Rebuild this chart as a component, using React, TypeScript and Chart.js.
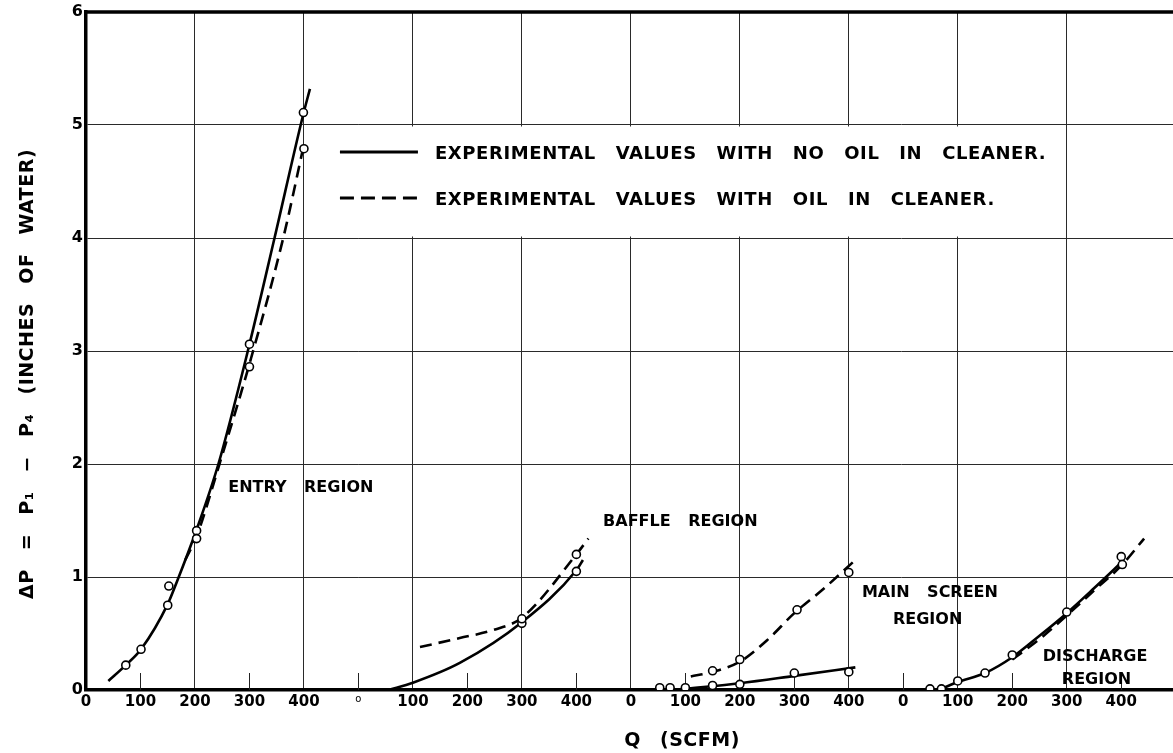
import { useEffect, useRef } from 'react';
import { Chart, registerables } from 'chart.js';

Chart.register(...registerables);

const FAMILY = '"DejaVu Sans", "Liberation Sans", sans-serif';

// Continuous x positions: four 0–400 SCFM panels laid side by side (offset 0, 500, 1000, 1500)
const X_MAX = 1995;
const X_TICKS = [0, 100, 200, 300, 400, 500, 600, 700, 800, 900, 1000, 1100, 1200, 1300, 1400, 1500, 1600, 1700, 1800, 1900];
const X_TICK_LABELS = ['0', '100', '200', '300', '400', 'o', '100', '200', '300', '400', '0', '100', '200', '300', '400', '0', '100', '200', '300', '400'];
const Y_TICKS = [0, 1, 2, 3, 4, 5, 6];

// Entry region
const entryNoOilQ = [41, 73, 101, 150, 167, 203, 243, 297, 346, 398, 411];
const entryNoOilDP = [0.08, 0.22, 0.36, 0.76, 0.96, 1.42, 2.0, 3.0, 4.0, 5.08, 5.32];
const entryOilQ = [182, 203, 245, 302, 362, 401];
const entryOilDP = [1.15, 1.36, 2.0, 2.92, 4.0, 4.85];

// Baffle region
const baffleNoOilQ = [555, 600, 686, 800, 900, 912];
const baffleNoOilDP = [0, 0.065, 0.24, 0.6, 1.06, 1.15];
const baffleOilQ = [613, 686, 747, 800, 900, 922];
const baffleOilDP = [0.38, 0.46, 0.53, 0.64, 1.2, 1.34];

// Main screen region
const screenNoOilQ = [1100, 1200, 1300, 1412];
const screenNoOilDP = [0.01, 0.06, 0.125, 0.2];
const screenOilQ = [1110, 1150, 1200, 1250, 1300, 1350, 1412];
const screenOilDP = [0.12, 0.16, 0.25, 0.44, 0.68, 0.88, 1.15];

// Discharge region
const dischargeNoOilQ = [1570, 1600, 1650, 1700, 1750, 1800, 1850, 1905];
const dischargeNoOilDP = [0.01, 0.07, 0.15, 0.29, 0.48, 0.68, 0.9, 1.15];
const dischargeOilQ = [1700, 1750, 1800, 1850, 1900, 1942];
const dischargeOilDP = [0.27, 0.45, 0.66, 0.88, 1.1, 1.34];

// Measured points (open circles)
const pointQ = [73, 101, 150, 152, 203, 203, 300, 300, 399, 400,
  800, 800, 900, 900,
  1053, 1072, 1100, 1150, 1200, 1300, 1400, 1150, 1200, 1305, 1400,
  1549, 1570, 1600, 1650, 1700, 1800, 1900, 1902];
const pointDP = [0.22, 0.36, 0.75, 0.92, 1.41, 1.34, 3.06, 2.86, 5.11, 4.79,
  0.59, 0.63, 1.05, 1.2,
  0.02, 0.02, 0.02, 0.04, 0.05, 0.15, 0.16, 0.17, 0.27, 0.71, 1.04,
  0.01, 0.01, 0.08, 0.15, 0.31, 0.69, 1.18, 1.11];

const LEGEND_TEXT = ['EXPERIMENTAL VALUES WITH NO OIL IN CLEANER.', 'EXPERIMENTAL VALUES WITH OIL IN CLEANER.'];
const REGION_LABELS: { text: string; q: number; dp: number }[] = [
  { text: 'ENTRY REGION', q: 261, dp: 1.785 },
  { text: 'BAFFLE REGION', q: 949, dp: 1.486 },
  { text: 'MAIN SCREEN', q: 1424, dp: 0.858 },
  { text: 'REGION', q: 1481, dp: 0.619 },
  { text: 'DISCHARGE', q: 1756, dp: 0.292 },
  { text: 'REGION', q: 1791, dp: 0.088 },
];
const Y_TITLE = 'ΔP = P₁ − P₄ (INCHES OF WATER)';
const X_TITLE = 'Q (SCFM)';

const zip = (xs: number[], ys: number[]) => xs.map((x, i) => ({ x, y: ys[i] }));

const curve = (q: number[], dp: number[], dashed: boolean) => ({
  type: 'line' as const,
  data: zip(q, dp),
  borderColor: '#000',
  borderWidth: 2.6,
  borderDash: dashed ? [12, 7] : [],
  pointRadius: 0,
  fill: false,
  cubicInterpolationMode: 'monotone' as const,
  order: 1,
});

const overlay = {
  id: 'overlay',
  beforeDraw(chart: any) {
    const { ctx, width, height } = chart;
    ctx.save();
    ctx.fillStyle = '#fff';
    ctx.fillRect(0, 0, width, height);
    ctx.restore();
  },
  beforeDatasetsDraw(chart: any) {
    const { ctx, chartArea, scales } = chart;
    const x = scales.x;
    const y = scales.y;
    ctx.save();
    // short marks at the odd hundreds
    ctx.strokeStyle = '#222';
    ctx.lineWidth = 1;
    X_TICKS.filter((v) => v % 200 !== 0).forEach((v) => {
      const px = Math.round(x.getPixelForValue(v)) + 0.5;
      ctx.beginPath();
      ctx.moveTo(px, chartArea.bottom);
      ctx.lineTo(px, chartArea.bottom - 17);
      ctx.stroke();
    });
    // legend panel
    const l = x.getPixelForValue(400);
    const r = x.getPixelForValue(1800);
    const t = y.getPixelForValue(5);
    const b = y.getPixelForValue(4);
    ctx.fillStyle = '#fff';
    ctx.fillRect(l + 1.5, t + 1.5, r - l - 3, b - t - 3);
    const rows = [t + 27, t + 73];
    ctx.strokeStyle = '#000';
    ctx.lineWidth = 3;
    rows.forEach((ry, i) => {
      ctx.setLineDash(i === 0 ? [] : [14, 7]);
      ctx.beginPath();
      ctx.moveTo(l + 36, ry);
      ctx.lineTo(l + 114, ry);
      ctx.stroke();
    });
    ctx.setLineDash([]);
    ctx.fillStyle = '#000';
    ctx.font = `bold 18px ${FAMILY}`;
    (ctx as any).letterSpacing = '0.6px';
    (ctx as any).wordSpacing = '13px';
    ctx.textAlign = 'left';
    ctx.textBaseline = 'middle';
    rows.forEach((ry, i) => ctx.fillText(LEGEND_TEXT[i], l + 131, ry + 2));
    ctx.restore();
  },
  afterDraw(chart: any) {
    const { ctx, chartArea, scales } = chart;
    const x = scales.x;
    const y = scales.y;
    ctx.save();
    // heavy top frame
    ctx.strokeStyle = '#000';
    ctx.lineWidth = 3.5;
    ctx.beginPath();
    ctx.moveTo(chartArea.left - 1.5, chartArea.top);
    ctx.lineTo(chartArea.right, chartArea.top);
    ctx.stroke();

    ctx.fillStyle = '#000';
    ctx.textAlign = 'left';
    ctx.textBaseline = 'middle';
    ctx.font = `bold 16px ${FAMILY}`;
    (ctx as any).letterSpacing = '0px';
    (ctx as any).wordSpacing = '12px';
    REGION_LABELS.forEach((lab) => {
      ctx.fillText(lab.text, x.getPixelForValue(lab.q), y.getPixelForValue(lab.dp));
    });

    // axis titles
    ctx.font = `bold 19px ${FAMILY}`;
    (ctx as any).wordSpacing = '12px';
    (ctx as any).letterSpacing = '0.5px';
    ctx.textAlign = 'center';
    ctx.fillText(X_TITLE, 682, 741);
    ctx.translate(28, 374);
    ctx.rotate(-Math.PI / 2);
    ctx.fillText(Y_TITLE, 0, 0);
    ctx.restore();
  },
};

export default function App() {
  const ref = useRef<HTMLCanvasElement>(null);

  useEffect(() => {
    const canvas = ref.current;
    if (!canvas) return;
    const chart = new Chart(canvas, {
      type: 'scatter',
      data: {
        datasets: [
          {
            type: 'scatter',
            data: zip(pointQ, pointDP),
            pointRadius: 4,
            pointBackgroundColor: '#fff',
            pointBorderColor: '#000',
            pointBorderWidth: 1.6,
            showLine: false,
            order: 0,
          } as any,
          curve(entryNoOilQ, entryNoOilDP, false),
          curve(entryOilQ, entryOilDP, true),
          curve(baffleNoOilQ, baffleNoOilDP, false),
          curve(baffleOilQ, baffleOilDP, true),
          curve(screenNoOilQ, screenNoOilDP, false),
          curve(screenOilQ, screenOilDP, true),
          curve(dischargeNoOilQ, dischargeNoOilDP, false),
          curve(dischargeOilQ, dischargeOilDP, true),
        ],
      },
      options: {
        responsive: false,
        maintainAspectRatio: false,
        animation: false,
        layout: { autoPadding: false, padding: { top: 12, right: 0, left: 0, bottom: 0 } },
        plugins: {
          legend: { display: false },
          tooltip: { enabled: false },
        },
        scales: {
          x: {
            type: 'linear',
            bounds: 'data',
            min: 0,
            max: X_MAX,
            afterBuildTicks: (s: any) => {
              s.ticks = X_TICKS.map((v) => ({ value: v }));
              s.min = 0;
              s.max = X_MAX;
            },
            afterFit: (s: any) => {
              s.height = 63;
              s.paddingLeft = 0;
              s.paddingRight = 0;
            },
            grid: {
              color: (c: any) => (c.tick && c.tick.value % 200 === 0 ? '#2a2a2a' : 'rgba(0,0,0,0)'),
              lineWidth: 1,
              drawTicks: false,
            },
            border: { display: true, color: '#000', width: 3.5 },
            ticks: {
              autoSkip: false,
              includeBounds: false,
              maxRotation: 0,
              padding: 3,
              color: '#000',
              callback: (_v: any, i: number) => X_TICK_LABELS[i],
              font: (c: any) =>
                c.tick && c.tick.value === 500
                  ? { family: FAMILY, size: 10, weight: 'normal' }
                  : { family: FAMILY, size: 15, weight: 'bold' },
            },
          },
          y: {
            type: 'linear',
            min: 0,
            max: 6,
            afterBuildTicks: (s: any) => {
              s.ticks = Y_TICKS.map((v) => ({ value: v }));
            },
            afterFit: (s: any) => {
              s.width = 86;
              s.paddingTop = 0;
              s.paddingBottom = 0;
            },
            grid: { color: '#2a2a2a', lineWidth: 1, drawTicks: false },
            border: { display: true, color: '#000', width: 3.5 },
            ticks: {
              padding: 3,
              color: '#000',
              font: { family: FAMILY, size: 16, weight: 'bold' },
            },
          },
        },
      },
      plugins: [overlay],
    } as any);
    return () => chart.destroy();
  }, []);

  return (
    <div style={{ position: 'absolute', left: 0, top: 0, width: 1173, height: 753, background: '#fff' }}>
      <canvas ref={ref} width={1173} height={753} style={{ display: 'block' }} />
    </div>
  );
}
